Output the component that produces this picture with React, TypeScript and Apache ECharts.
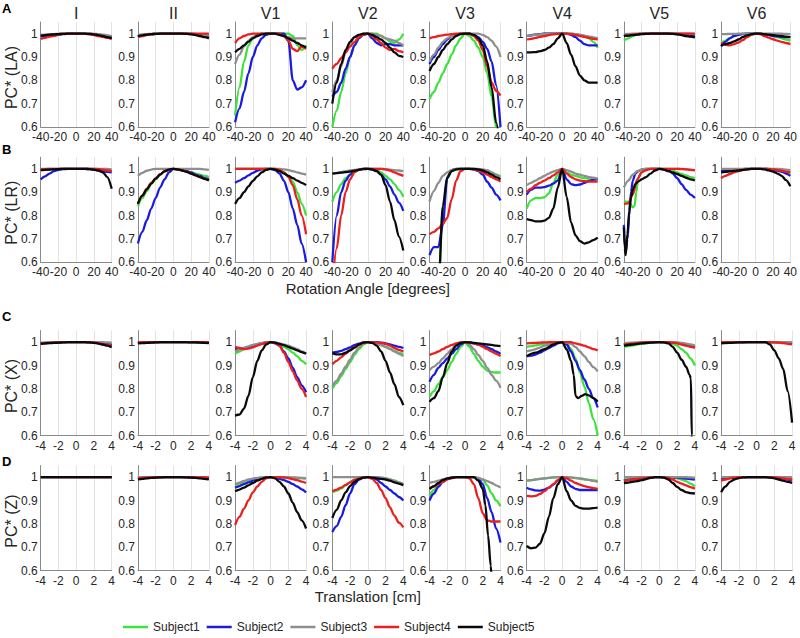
import React, { useEffect, useRef } from "react";
import * as echarts from "echarts";

// ---------- axes / labels ----------
const ROT_X = [-40, -35, -30, -25, -20, -15, -10, -5, 0, 5, 10, 15, 20, 25, 30, 35, 40];
const TR_X = [-4, -3.5, -3, -2.5, -2, -1.5, -1, -0.5, 0, 0.5, 1, 1.5, 2, 2.5, 3, 3.5, 4];
const COL_TITLES = ["I", "II", "V1", "V2", "V3", "V4", "V5", "V6"];
const ROW_LETTERS = ["A", "B", "C", "D"];
const Y_NAMES = ["PC* (LA)", "PC* (LR)", "PC* (X)", "PC* (Z)"];
const X_NAMES = ["Rotation Angle [degrees]", "Translation [cm]"];
const SUBJECTS = ["Subject1", "Subject2", "Subject3", "Subject4", "Subject5"];
const ONE = [1, 1, 1, 1, 1, 1, 1, 1, 1, 1, 1, 1, 1, 1, 1, 1, 1];

type S = number[] | [number, number][];

// ---------- Row A : PC* (LA), rotation ----------
const LA_I: S[] = [
  [0.99, 0.993, 0.995, 0.997, 0.998, 0.999, 1, 1, 1, 1, 1, 0.999, 0.998, 0.996, 0.993, 0.99, 0.986],
  [0.988, 0.991, 0.994, 0.996, 0.998, 0.999, 1, 1, 1, 1, 1, 0.999, 0.998, 0.996, 0.993, 0.99, 0.985],
  [0.995, 0.996, 0.997, 0.998, 0.999, 1, 1, 1, 1, 1, 1, 1, 0.999, 0.998, 0.996, 0.993, 0.99],
  [0.978, 0.982, 0.987, 0.991, 0.995, 0.998, 0.999, 1, 1, 1, 0.999, 0.997, 0.994, 0.99, 0.986, 0.982, 0.978],
  [0.992, 0.994, 0.996, 0.997, 0.998, 0.999, 1, 1, 1, 1, 1, 0.999, 0.997, 0.994, 0.99, 0.985, 0.98],
];
const LA_II: S[] = [
  [0.99, 0.993, 0.996, 0.998, 0.999, 1, 1, 1, 1, 1, 1, 1, 0.999, 0.997, 0.995, 0.992, 0.99],
  [0.99, 0.993, 0.996, 0.998, 0.999, 1, 1, 1, 1, 1, 1, 1, 0.999, 0.997, 0.994, 0.99, 0.986],
  [0.995, 0.997, 0.998, 0.999, 1, 1, 1, 1, 1, 1, 1, 1, 1, 0.999, 0.997, 0.995, 0.992],
  [0.985, 0.99, 0.994, 0.997, 0.999, 1, 1, 1, 1, 1, 1, 1, 1, 1, 1, 1, 1],
  [0.99, 0.993, 0.996, 0.998, 0.999, 1, 1, 1, 1, 1, 1, 0.999, 0.997, 0.994, 0.99, 0.985, 0.98],
];
const LA_V1: S[] = [
  [0.65, 0.77, 0.88, 0.95, 0.98, 0.995, 1, 1, 1, 1, 1, 1, 1, 0.99, 0.95, 0.93, 0.95],
  [0.62, 0.68, 0.75, 0.83, 0.9, 0.95, 0.98, 0.995, 1, 1, 1, 1, 0.97, 0.8, 0.76, 0.77, 0.8],
  [0.87, 0.91, 0.945, 0.97, 0.985, 0.995, 1, 1, 1, 1, 0.995, 0.99, 0.985, 0.98, 0.98, 0.98, 0.98],
  [0.96, 0.98, 0.99, 0.997, 1, 1, 1, 1, 1, 1, 1, 0.99, 0.97, 0.935, 0.925, 0.945, 0.935],
  [0.92, 0.935, 0.95, 0.965, 0.98, 0.99, 0.997, 1, 1, 1, 0.995, 0.99, 0.98, 0.97, 0.96, 0.95, 0.94],
];
const LA_V2: S[] = [
  [0.6, 0.67, 0.75, 0.83, 0.9, 0.95, 0.98, 0.995, 1, 1, 1, 0.99, 0.98, 0.965, 0.96, 0.975, 1],
  [0.73, 0.75, 0.79, 0.85, 0.9, 0.95, 0.98, 0.995, 1, 0.98, 0.96, 0.95, 0.955, 0.955, 0.95, 0.95, 0.95],
  [0.75, 0.8, 0.86, 0.92, 0.96, 0.985, 0.995, 1, 1, 1, 0.995, 0.99, 0.98, 0.975, 0.97, 0.96, 0.95],
  [0.85, 0.87, 0.895, 0.92, 0.945, 0.965, 0.985, 0.995, 1, 0.99, 0.975, 0.96, 0.94, 0.93, 0.935, 0.925, 0.92],
  [0.7, 0.79, 0.87, 0.93, 0.965, 0.985, 0.995, 1, 1, 0.995, 0.985, 0.975, 0.96, 0.94, 0.92, 0.905, 0.9],
];
const LA_V3: S[] = [
  [0.72, 0.75, 0.79, 0.83, 0.87, 0.91, 0.95, 0.98, 1, 0.99, 0.97, 0.94, 0.9, 0.83, 0.73, 0.6, 0.5],
  [0.87, 0.9, 0.93, 0.955, 0.975, 0.99, 0.997, 1, 1, 1, 0.995, 0.985, 0.965, 0.935, 0.88, 0.78, 0.6],
  [0.88, 0.91, 0.94, 0.965, 0.98, 0.99, 0.997, 1, 1, 1, 1, 1, 0.995, 0.985, 0.97, 0.945, 0.9],
  [0.98, 0.985, 0.99, 0.993, 0.996, 0.998, 1, 1, 1, 1, 0.99, 0.97, 0.93, 0.86, 0.79, 0.755, 0.735],
  [0.84, 0.87, 0.9, 0.93, 0.955, 0.975, 0.99, 0.998, 1, 1, 0.995, 0.98, 0.95, 0.88, 0.77, 0.62, 0.5],
];
const LA_V4: S[] = [
  [0.99, 0.993, 0.996, 0.998, 1, 1, 1, 1, 1, 1, 1, 0.998, 0.995, 0.99, 0.98, 0.965, 0.94],
  [0.99, 0.993, 0.996, 0.998, 1, 1, 1, 1, 1, 1, 0.995, 0.985, 0.97, 0.955, 0.95, 0.95, 0.95],
  [0.99, 0.993, 0.995, 0.997, 0.998, 1, 1, 1, 1, 1, 1, 0.998, 0.995, 0.992, 0.988, 0.984, 0.98],
  [0.975, 0.978, 0.982, 0.986, 0.99, 0.994, 0.997, 0.999, 1, 1, 0.998, 0.995, 0.99, 0.986, 0.982, 0.978, 0.975],
  [0.92, 0.92, 0.921, 0.925, 0.93, 0.94, 0.955, 0.98, 1, 0.96, 0.91, 0.86, 0.82, 0.8, 0.79, 0.79, 0.79],
];
const LA_V5: S[] = [
  [0.97, 0.98, 0.99, 0.997, 1, 1, 1, 1, 1, 1, 1, 1, 0.998, 0.996, 0.994, 0.99, 0.988],
  [0.99, 0.993, 0.996, 0.998, 0.999, 1, 1, 1, 1, 1, 1, 1, 0.999, 0.997, 0.994, 0.99, 0.988],
  [0.998, 0.999, 1, 1, 1, 1, 1, 1, 1, 1, 1, 1, 1, 1, 1, 1, 0.998],
  [0.99, 0.993, 0.996, 0.998, 0.999, 1, 1, 1, 1, 1, 1, 1, 1, 1, 1, 1, 1],
  [0.99, 0.992, 0.994, 0.996, 0.998, 0.999, 1, 1, 1, 1, 1, 0.999, 0.997, 0.994, 0.99, 0.987, 0.984],
];
const LA_V6: S[] = [
  [0.96, 0.97, 0.98, 0.99, 0.997, 1, 1, 1, 1, 1, 0.998, 0.995, 0.99, 0.985, 0.98, 0.975, 0.97],
  [0.945, 0.965, 0.98, 0.99, 0.995, 0.998, 1, 1, 1, 1, 0.998, 0.995, 0.99, 0.988, 0.986, 0.985, 0.985],
  [0.998, 0.998, 0.999, 0.999, 1, 1, 1, 1, 1, 1, 1, 1, 1, 1, 1, 0.999, 0.998],
  [0.96, 0.952, 0.95, 0.955, 0.962, 0.972, 0.985, 0.995, 1, 0.998, 0.99, 0.983, 0.976, 0.97, 0.965, 0.96, 0.955],
  [0.95, 0.955, 0.96, 0.967, 0.975, 0.985, 0.993, 0.998, 1, 1, 0.998, 0.996, 0.994, 0.992, 0.99, 0.987, 0.985],
];

// ---------- Row B : PC* (LR), rotation ----------
const LR_I: S[] = [
  [0.995, 0.996, 0.997, 0.998, 0.999, 1, 1, 1, 1, 1, 1, 1, 0.999, 0.998, 0.996, 0.993, 0.99],
  [0.955, 0.968, 0.98, 0.99, 0.996, 0.999, 1, 1, 1, 1, 1, 0.999, 0.997, 0.994, 0.99, 0.987, 0.985],
  [1, 1, 1, 1, 1, 1, 1, 1, 1, 1, 1, 1, 1, 1, 1, 1, 0.998],
  [0.998, 0.999, 1, 1, 1, 1, 1, 1, 1, 1, 1, 1, 1, 0.999, 0.997, 0.993, 0.99],
  [0.995, 0.996, 0.997, 0.998, 0.999, 1, 1, 1, 1, 1, 1, 0.999, 0.997, 0.993, 0.985, 0.965, 0.915],
];
const LR_II: S[] = [
  [0.84, 0.875, 0.905, 0.935, 0.955, 0.975, 0.99, 0.997, 1, 0.998, 0.995, 0.99, 0.985, 0.98, 0.975, 0.97, 0.965],
  [0.68, 0.73, 0.78, 0.83, 0.875, 0.92, 0.955, 0.985, 1, 0.998, 0.995, 0.99, 0.985, 0.975, 0.97, 0.96, 0.955],
  [0.97, 0.983, 0.992, 0.997, 1, 1, 1, 1, 1, 1, 1, 1, 1, 1, 1, 0.998, 0.996],
  [0.85, 0.885, 0.915, 0.94, 0.96, 0.977, 0.99, 0.997, 1, 0.998, 0.994, 0.988, 0.98, 0.973, 0.965, 0.958, 0.952],
  [0.85, 0.885, 0.912, 0.937, 0.958, 0.975, 0.989, 0.997, 1, 0.998, 0.993, 0.987, 0.98, 0.972, 0.965, 0.957, 0.95],
];
const LR_V1: S[] = [
  [1, 1, 1, 1, 1, 1, 1, 1, 1, 1, 0.995, 0.985, 0.97, 0.945, 0.9, 0.85, 0.8],
  [0.94, 0.95, 0.96, 0.972, 0.983, 0.992, 0.998, 1, 1, 0.995, 0.98, 0.95, 0.9, 0.83, 0.76, 0.68, 0.6],
  [1, 1, 1, 1, 1, 1, 1, 1, 1, 1, 1, 0.998, 0.995, 0.99, 0.985, 0.98, 0.975],
  [1, 1, 1, 1, 1, 1, 1, 1, 1, 1, 0.995, 0.985, 0.965, 0.93, 0.87, 0.8, 0.72],
  [0.85, 0.875, 0.9, 0.925, 0.948, 0.968, 0.985, 0.996, 1, 0.997, 0.99, 0.98, 0.97, 0.96, 0.95, 0.94, 0.93],
];
const LR_V2: S[] = [
  [0.86, 0.9, 0.935, 0.96, 0.975, 0.988, 0.996, 1, 1, 1, 0.995, 0.985, 0.97, 0.955, 0.935, 0.91, 0.88],
  [0.6, 0.8, 0.9, 0.95, 0.975, 0.99, 0.997, 1, 1, 0.997, 0.99, 0.975, 0.955, 0.925, 0.89, 0.855, 0.82],
  [0.98, 0.983, 0.986, 0.99, 0.993, 0.996, 0.998, 1, 1, 1, 1, 1, 0.999, 0.997, 0.995, 0.993, 0.99],
  [0.5, 0.66, 0.8, 0.9, 0.955, 0.985, 0.997, 1, 1, 1, 1, 1, 0.998, 0.993, 0.985, 0.977, 0.97],
  [0.98, 0.982, 0.984, 0.986, 0.988, 0.992, 0.996, 0.999, 1, 0.998, 0.99, 0.975, 0.93, 0.86, 0.78, 0.71, 0.65],
];
const LR_V3: S[] = [
  [0.3, 0.35, 0.5, 0.82, 0.96, 0.99, 0.998, 1, 1, 1, 1, 0.998, 0.995, 0.99, 0.983, 0.975, 0.968],
  [0.63, 0.665, 0.665, 0.76, 0.96, 0.995, 1, 1, 1, 1, 0.998, 0.99, 0.975, 0.945, 0.92, 0.89, 0.865],
  [0.86, 0.905, 0.94, 0.97, 0.985, 0.995, 1, 1, 1, 1, 1, 1, 0.998, 0.994, 0.985, 0.975, 0.962],
  [0.72, 0.73, 0.745, 0.765, 0.79, 0.87, 0.95, 0.99, 1, 1, 0.998, 0.993, 0.985, 0.975, 0.965, 0.955, 0.945],
  [0.3, 0.35, 0.48, 0.84, 0.965, 0.99, 0.998, 1, 1, 1, 1, 0.998, 0.993, 0.985, 0.975, 0.965, 0.955],
];
const LR_V4: S[] = [
  [0.83, 0.865, 0.875, 0.875, 0.878, 0.895, 0.94, 0.975, 1, 0.985, 0.975, 0.97, 0.965, 0.96, 0.958, 0.957, 0.955],
  [0.89, 0.91, 0.92, 0.92, 0.922, 0.928, 0.937, 0.95, 1, 0.955, 0.935, 0.93, 0.933, 0.94, 0.948, 0.953, 0.957],
  [0.93, 0.94, 0.95, 0.96, 0.97, 0.98, 0.988, 0.995, 1, 0.995, 0.988, 0.98, 0.975, 0.97, 0.965, 0.962, 0.958],
  [0.9, 0.915, 0.93, 0.94, 0.95, 0.96, 0.972, 0.985, 1, 0.98, 0.965, 0.955, 0.95, 0.947, 0.945, 0.945, 0.945],
  [0.785, 0.78, 0.775, 0.775, 0.778, 0.79, 0.83, 0.92, 1, 0.88, 0.77, 0.715, 0.69, 0.68, 0.685, 0.695, 0.705],
];
const LR_V5: S[] = [
  [[-40, 0.86], [-36, 0.86], [-33, 0.85], [-30, 0.835], [-28, 0.84], [-26, 0.9], [-24, 0.96], [-20, 0.985], [-15, 0.995], [-10, 1], [0, 1], [10, 0.998], [15, 0.993], [20, 0.985], [25, 0.978], [30, 0.972], [35, 0.965], [40, 0.96]],
  [[-40, 0.76], [-39, 0.67], [-38, 0.645], [-36, 0.7], [-34, 0.8], [-32, 0.9], [-30, 0.95], [-27, 0.98], [-24, 0.99], [-20, 0.997], [-15, 1], [-10, 1], [0, 1], [10, 0.995], [15, 0.98], [20, 0.96], [25, 0.935], [30, 0.91], [35, 0.89], [40, 0.875]],
  [0.92, 0.95, 0.975, 0.99, 0.997, 1, 1, 1, 1, 1, 1, 1, 1, 1, 0.999, 0.997, 0.995],
  [0.85, 0.852, 0.89, 0.955, 0.985, 0.995, 1, 1, 1, 1, 1, 1, 1, 0.999, 0.998, 0.996, 0.994],
  [[-40, 0.75], [-39, 0.66], [-38, 0.63], [-36, 0.72], [-34, 0.82], [-32, 0.88], [-30, 0.91], [-27, 0.935], [-24, 0.945], [-20, 0.955], [-15, 0.965], [-10, 0.98], [-5, 0.993], [0, 1], [5, 0.997], [10, 0.99], [15, 0.985], [20, 0.978], [25, 0.97], [30, 0.962], [35, 0.955], [40, 0.95]],
];
const LR_V6: S[] = [
  [0.985, 0.988, 0.991, 0.994, 0.997, 0.999, 1, 1, 1, 1, 1, 0.999, 0.997, 0.994, 0.99, 0.985, 0.98],
  [0.99, 0.992, 0.994, 0.996, 0.998, 0.999, 1, 1, 1, 1, 1, 0.999, 0.997, 0.993, 0.988, 0.98, 0.97],
  [1, 1, 1, 1, 1, 1, 1, 1, 1, 1, 1, 1, 1, 1, 0.999, 0.997, 0.995],
  [0.96, 0.97, 0.978, 0.985, 0.99, 0.995, 0.998, 1, 1, 1, 1, 1, 0.998, 0.995, 0.992, 0.988, 0.985],
  [0.985, 0.987, 0.989, 0.991, 0.993, 0.996, 0.998, 1, 1, 1, 0.998, 0.994, 0.988, 0.98, 0.97, 0.952, 0.925],
];

// ---------- Row C : PC* (X), translation ----------
const X_I: S[] = [
  [0.995, 0.996, 0.997, 0.998, 0.999, 1, 1, 1, 1, 1, 1, 1, 0.999, 0.997, 0.995, 0.992, 0.99],
  [0.995, 0.996, 0.997, 0.998, 0.999, 1, 1, 1, 1, 1, 1, 1, 0.999, 0.997, 0.995, 0.992, 0.988],
  [0.998, 0.999, 1, 1, 1, 1, 1, 1, 1, 1, 1, 1, 1, 1, 1, 0.999, 0.998],
  [0.995, 0.996, 0.997, 0.998, 0.999, 1, 1, 1, 1, 1, 1, 0.999, 0.998, 0.995, 0.992, 0.988, 0.985],
  [0.993, 0.995, 0.996, 0.997, 0.998, 0.999, 1, 1, 1, 1, 1, 0.999, 0.997, 0.994, 0.99, 0.985, 0.978],
];
const X_II: S[] = [
  [0.998, 0.999, 1, 1, 1, 1, 1, 1, 1, 1, 1, 1, 1, 1, 1, 0.999, 0.998],
  [0.998, 0.999, 1, 1, 1, 1, 1, 1, 1, 1, 1, 1, 1, 1, 1, 0.999, 0.998],
  ONE,
  ONE,
  [0.995, 0.996, 0.997, 0.998, 0.999, 1, 1, 1, 1, 1, 1, 1, 0.999, 0.999, 0.998, 0.997, 0.996],
];
const X_V1: S[] = [
  [0.95, 0.96, 0.97, 0.978, 0.985, 0.99, 0.995, 0.999, 1, 0.997, 0.99, 0.98, 0.97, 0.955, 0.94, 0.92, 0.905],
  [0.97, 0.972, 0.975, 0.98, 0.985, 0.99, 0.995, 0.999, 1, 0.995, 0.985, 0.96, 0.93, 0.89, 0.85, 0.815, 0.785],
  [0.96, 0.968, 0.975, 0.982, 0.988, 0.993, 0.997, 0.999, 1, 0.999, 0.995, 0.99, 0.985, 0.978, 0.97, 0.96, 0.952],
  [0.98, 0.975, 0.97, 0.972, 0.978, 0.985, 0.992, 0.998, 1, 0.997, 0.985, 0.955, 0.915, 0.875, 0.835, 0.8, 0.765],
  [0.685, 0.69, 0.715, 0.77, 0.85, 0.92, 0.965, 0.99, 1, 0.998, 0.993, 0.987, 0.98, 0.972, 0.965, 0.957, 0.95],
];
const X_V2: S[] = [
  [0.8, 0.825, 0.855, 0.885, 0.915, 0.945, 0.97, 0.99, 1, 0.998, 0.993, 0.987, 0.98, 0.972, 0.963, 0.955, 0.948],
  [0.955, 0.958, 0.963, 0.97, 0.978, 0.987, 0.994, 0.999, 1, 1, 1, 0.998, 0.995, 0.99, 0.985, 0.98, 0.975],
  [0.81, 0.835, 0.865, 0.895, 0.925, 0.955, 0.978, 0.995, 1, 0.998, 0.993, 0.987, 0.98, 0.97, 0.96, 0.95, 0.94],
  [0.905, 0.92, 0.935, 0.95, 0.965, 0.978, 0.99, 0.998, 1, 1, 0.999, 0.997, 0.993, 0.985, 0.975, 0.967, 0.96],
  [0.953, 0.948, 0.948, 0.955, 0.965, 0.977, 0.99, 0.998, 1, 0.997, 0.985, 0.96, 0.92, 0.87, 0.82, 0.765, 0.73],
];
const X_V3: S[] = [
  [0.765, 0.79, 0.82, 0.85, 0.88, 0.915, 0.95, 0.98, 1, 0.98, 0.95, 0.92, 0.895, 0.878, 0.872, 0.87, 0.87],
  [0.83, 0.86, 0.89, 0.91, 0.93, 0.95, 0.97, 0.99, 1, 0.999, 0.995, 0.99, 0.985, 0.978, 0.97, 0.96, 0.95],
  [0.88, 0.895, 0.91, 0.93, 0.95, 0.97, 0.99, 0.998, 1, 0.99, 0.97, 0.945, 0.92, 0.89, 0.86, 0.835, 0.805],
  [0.945, 0.952, 0.96, 0.97, 0.98, 0.988, 0.995, 0.999, 1, 0.998, 0.995, 0.99, 0.98, 0.97, 0.96, 0.95, 0.94],
  [0.745, 0.76, 0.79, 0.85, 0.91, 0.96, 0.985, 0.997, 1, 0.999, 0.997, 0.995, 0.993, 0.99, 0.988, 0.985, 0.983],
];
const X_V4: S[] = [
  [0.98, 0.983, 0.986, 0.99, 0.993, 0.996, 0.998, 1, 1, 0.995, 0.97, 0.93, 0.87, 0.81, 0.74, 0.67, 0.6],
  [0.94, 0.942, 0.947, 0.955, 0.965, 0.975, 0.985, 0.995, 1, 0.99, 0.96, 0.92, 0.88, 0.84, 0.8, 0.76, 0.72],
  [0.96, 0.965, 0.97, 0.977, 0.985, 0.99, 0.995, 0.999, 1, 0.998, 0.993, 0.98, 0.96, 0.94, 0.915, 0.893, 0.875],
  [0.995, 0.996, 0.997, 0.998, 0.999, 1, 1, 1, 1, 1, 1, 0.995, 0.99, 0.985, 0.978, 0.97, 0.965],
  [[-4, 0.94], [-3, 0.955], [-2, 0.97], [-1, 0.99], [-0.5, 0.997], [0, 1], [0.5, 0.97], [1, 0.92], [1.3, 0.86], [1.5, 0.77], [1.8, 0.76], [2.2, 0.77], [2.6, 0.777], [3, 0.772], [3.5, 0.76], [4, 0.745]],
];
const X_V5: S[] = [
  [0.98, 0.983, 0.986, 0.99, 0.993, 0.996, 0.998, 1, 1, 1, 0.998, 0.993, 0.985, 0.97, 0.955, 0.93, 0.9],
  [0.99, 0.992, 0.994, 0.996, 0.998, 0.999, 1, 1, 1, 1, 1, 0.999, 0.997, 0.994, 0.99, 0.985, 0.98],
  [0.995, 0.997, 0.998, 0.999, 1, 1, 1, 1, 1, 1, 1, 1, 0.999, 0.997, 0.994, 0.99, 0.985],
  [0.99, 0.992, 0.994, 0.996, 0.998, 0.999, 1, 1, 1, 1, 1, 0.998, 0.995, 0.99, 0.985, 0.98, 0.975],
  [[-4, 0.985], [-3, 0.99], [-2, 0.995], [-1, 0.998], [0, 1], [0.5, 0.999], [1, 0.995], [1.5, 0.98], [2, 0.955], [2.5, 0.925], [3, 0.895], [3.4, 0.86], [3.55, 0.845], [3.65, 0.6], [3.7, 0.5]],
];
const X_V6: S[] = [
  ONE,
  [1, 1, 1, 1, 1, 1, 1, 1, 1, 1, 1, 1, 1, 1, 0.999, 0.998, 0.997],
  ONE,
  [1, 1, 1, 1, 1, 1, 1, 1, 1, 1, 1, 1, 0.999, 0.998, 0.996, 0.993, 0.99],
  [[-4, 0.995], [-3, 0.997], [-2, 0.999], [-1, 1], [0, 1], [1, 1], [1.5, 0.99], [2, 0.965], [2.5, 0.93], [3, 0.885], [3.5, 0.79], [4, 0.655]],
];

// ---------- Row D : PC* (Z), translation ----------
const Z_I: S[] = [ONE, ONE, ONE, ONE, ONE];
const Z_II: S[] = [
  [0.998, 0.999, 1, 1, 1, 1, 1, 1, 1, 1, 1, 1, 1, 1, 1, 0.999, 0.998],
  [0.997, 0.998, 0.999, 1, 1, 1, 1, 1, 1, 1, 1, 1, 1, 0.999, 0.998, 0.997, 0.996],
  ONE,
  [0.995, 0.997, 0.998, 0.999, 1, 1, 1, 1, 1, 1, 1, 1, 1, 1, 0.999, 0.999, 0.998],
  [0.99, 0.993, 0.995, 0.997, 0.998, 0.999, 1, 1, 1, 1, 1, 0.999, 0.998, 0.997, 0.995, 0.993, 0.99],
];
const Z_V1: S[] = [
  [0.965, 0.972, 0.98, 0.986, 0.991, 0.995, 0.998, 1, 1, 1, 1, 0.999, 0.998, 0.997, 0.996, 0.995, 0.994],
  [0.955, 0.962, 0.97, 0.978, 0.985, 0.991, 0.996, 0.999, 1, 0.998, 0.993, 0.987, 0.98, 0.97, 0.96, 0.948, 0.935],
  [0.97, 0.977, 0.984, 0.99, 0.994, 0.997, 0.999, 1, 1, 1, 1, 1, 1, 0.999, 0.998, 0.997, 0.996],
  [0.795, 0.83, 0.865, 0.9, 0.935, 0.96, 0.98, 0.995, 1, 1, 1, 0.999, 0.996, 0.992, 0.987, 0.981, 0.975],
  [0.94, 0.947, 0.955, 0.965, 0.975, 0.985, 0.993, 0.999, 1, 0.995, 0.98, 0.96, 0.93, 0.89, 0.85, 0.815, 0.78],
];
const Z_V2: S[] = [
  [0.935, 0.942, 0.952, 0.965, 0.978, 0.99, 0.997, 1, 1, 1, 1, 0.998, 0.995, 0.99, 0.985, 0.978, 0.97],
  [0.765, 0.79, 0.83, 0.88, 0.93, 0.97, 0.99, 0.999, 1, 0.998, 0.99, 0.975, 0.96, 0.945, 0.93, 0.915, 0.9],
  [1, 1, 1, 1, 1, 1, 1, 1, 1, 1, 1, 0.998, 0.995, 0.99, 0.985, 0.978, 0.97],
  [0.94, 0.947, 0.955, 0.967, 0.978, 0.988, 0.995, 0.999, 1, 0.993, 0.975, 0.945, 0.91, 0.87, 0.835, 0.805, 0.785],
  [0.825, 0.86, 0.9, 0.935, 0.962, 0.98, 0.992, 0.998, 1, 0.998, 0.995, 0.993, 0.99, 0.985, 0.978, 0.972, 0.965],
];
const Z_V3: S[] = [
  [0.92, 0.945, 0.965, 0.982, 0.993, 0.998, 1, 1, 1, 1, 1, 0.997, 0.99, 0.965, 0.93, 0.9, 0.875],
  [0.9, 0.93, 0.958, 0.98, 0.993, 0.998, 1, 1, 1, 1, 1, 0.995, 0.97, 0.91, 0.85, 0.78, 0.72],
  [0.975, 0.98, 0.985, 0.99, 0.995, 0.998, 1, 1, 1, 1, 1, 0.997, 0.99, 0.983, 0.975, 0.965, 0.955],
  [0.95, 0.96, 0.97, 0.98, 0.99, 0.996, 1, 1, 1, 0.995, 0.97, 0.91, 0.845, 0.815, 0.81, 0.81, 0.81],
  [[-4, 0.95], [-3.5, 0.962], [-3, 0.975], [-2.5, 0.988], [-2, 0.995], [-1, 1], [0, 1], [1, 1], [1.5, 0.985], [2, 0.95], [2.3, 0.88], [2.6, 0.75], [2.9, 0.62], [3, 0.57]],
];
const Z_V4: S[] = [
  [0.985, 0.987, 0.99, 0.993, 0.995, 0.997, 0.999, 1, 1, 1, 0.998, 0.996, 0.993, 0.99, 0.988, 0.986, 0.984],
  [0.955, 0.948, 0.943, 0.942, 0.947, 0.955, 0.968, 0.985, 1, 0.98, 0.96, 0.95, 0.945, 0.945, 0.945, 0.945, 0.945],
  [0.985, 0.987, 0.99, 0.993, 0.995, 0.997, 0.999, 1, 1, 1, 0.999, 0.997, 0.995, 0.992, 0.988, 0.984, 0.98],
  [0.92, 0.918, 0.92, 0.928, 0.94, 0.955, 0.97, 0.987, 1, 0.995, 0.985, 0.975, 0.968, 0.962, 0.957, 0.953, 0.95],
  [0.705, 0.695, 0.698, 0.715, 0.76, 0.83, 0.91, 0.97, 1, 0.94, 0.9, 0.877, 0.868, 0.865, 0.865, 0.867, 0.87],
];
const Z_V5: S[] = [
  [0.99, 0.992, 0.994, 0.996, 0.998, 0.999, 1, 1, 1, 1, 1, 0.998, 0.995, 0.99, 0.983, 0.972, 0.96],
  [0.985, 0.988, 0.991, 0.994, 0.996, 0.998, 0.999, 1, 1, 1, 1, 0.999, 0.998, 0.996, 0.994, 0.992, 0.99],
  [1, 1, 1, 1, 1, 1, 1, 1, 1, 1, 1, 1, 1, 1, 1, 0.999, 0.998],
  [0.985, 0.987, 0.99, 0.993, 0.995, 0.997, 0.999, 1, 1, 1, 0.997, 0.99, 0.98, 0.972, 0.965, 0.957, 0.95],
  [0.975, 0.977, 0.98, 0.983, 0.987, 0.992, 0.997, 1, 1, 0.998, 0.99, 0.975, 0.958, 0.945, 0.936, 0.932, 0.93],
];
const Z_V6: S[] = [
  [0.99, 0.993, 0.996, 0.998, 0.999, 1, 1, 1, 1, 1, 1, 1, 0.999, 0.998, 0.997, 0.995, 0.993],
  [0.995, 0.997, 0.998, 0.999, 1, 1, 1, 1, 1, 1, 1, 1, 0.999, 0.998, 0.995, 0.99, 0.985],
  ONE,
  [0.985, 0.99, 0.995, 0.998, 1, 1, 1, 1, 1, 1, 1, 1, 0.999, 0.997, 0.995, 0.992, 0.99],
  [0.935, 0.96, 0.98, 0.99, 0.996, 0.999, 1, 1, 1, 1, 1, 0.998, 0.995, 0.99, 0.985, 0.98, 0.975],
];

const ROWS: S[][][] = [
  [LA_I, LA_II, LA_V1, LA_V2, LA_V3, LA_V4, LA_V5, LA_V6],
  [LR_I, LR_II, LR_V1, LR_V2, LR_V3, LR_V4, LR_V5, LR_V6],
  [X_I, X_II, X_V1, X_V2, X_V3, X_V4, X_V5, X_V6],
  [Z_I, Z_II, Z_V1, Z_V2, Z_V3, Z_V4, Z_V5, Z_V6],
];
const ROW_X = [ROT_X, ROT_X, TR_X, TR_X];
const ROW_XRANGE = [
  [-40, 40, 20],
  [-40, 40, 20],
  [-4, 4, 2],
  [-4, 4, 2],
];

// ---------- styling / layout ----------
const COLORS = ["#3ee23e", "#1a1ae0", "#8e8e8e", "#ec1e1e", "#0a0a0a"];
const FONT = "'Liberation Sans', Arial, Helvetica, sans-serif";
const TXT = "#262626";
const LEFT0 = 40.7;
const STEP = 97.2;
const PW = 71;
const ROW_TOP = [22, 157.2, 330.5, 465.5];
const PH = 105;
const LETTER_Y = [8, 149, 316, 461];
const XNAME_Y = [288, 596];

function toPairs(s: S, xs: number[]): [number, number][] {
  if (s.length && typeof s[0] === "number") {
    return (s as number[]).map((y, i) => [xs[i], y] as [number, number]);
  }
  return s as [number, number][];
}

function buildOption() {
  const grid: any[] = [];
  const xAxis: any[] = [];
  const yAxis: any[] = [];
  const series: any[] = [];
  const graphic: any[] = [];

  ROWS.forEach((row, r) => {
    row.forEach((panel, c) => {
      const idx = grid.length;
      const left = LEFT0 + STEP * c;
      grid.push({ left, top: ROW_TOP[r], width: PW, height: PH, containLabel: false });
      const [mn, mx, iv] = ROW_XRANGE[r];
      xAxis.push({
        type: "value",
        gridIndex: idx,
        min: mn,
        max: mx,
        interval: iv,
        axisLine: { show: true, onZero: false, lineStyle: { color: "#8a8a8a", width: 1 } },
        axisTick: { show: false },
        axisLabel: {
          show: true,
          margin: 4,
          fontSize: 12,
          color: TXT,
          fontFamily: FONT,
          showMinLabel: true,
          showMaxLabel: true,
        },
        splitLine: { show: true, lineStyle: { color: "#e3e3e3", width: 1 } },
      });
      yAxis.push({
        type: "value",
        gridIndex: idx,
        min: 0.6,
        max: 1.05,
        interval: 0.1,
        axisLine: { show: true, onZero: false, lineStyle: { color: "#8a8a8a", width: 1 } },
        axisTick: { show: false },
        axisLabel: {
          show: true,
          margin: 3,
          fontSize: 12,
          color: TXT,
          fontFamily: FONT,
          showMinLabel: true,
          showMaxLabel: false,
          formatter: (v: number) => (Math.abs(v - 1) < 1e-9 ? "1" : v.toFixed(1)),
        },
        splitLine: { show: false },
      });
      panel.forEach((s, k) => {
        series.push({
          type: "line",
          name: SUBJECTS[k],
          xAxisIndex: idx,
          yAxisIndex: idx,
          data: toPairs(s, ROW_X[r]),
          symbol: "none",
          showSymbol: false,
          smooth: 0.3,
          smoothMonotone: "x",
          clip: true,
          silent: true,
          z: 2 + k,
          lineStyle: { color: COLORS[k], width: 2.3 },
          itemStyle: { color: COLORS[k] },
        });
      });
    });
  });

  COL_TITLES.forEach((t, c) => {
    graphic.push({
      type: "text",
      x: LEFT0 + STEP * c + PW / 2,
      y: 13,
      style: { text: t, font: `16px ${FONT}`, fill: TXT, textAlign: "center", textVerticalAlign: "middle" },
    });
  });
  ROW_LETTERS.forEach((t, r) => {
    graphic.push({
      type: "text",
      x: 2,
      y: LETTER_Y[r],
      style: { text: t, font: `bold 13px ${FONT}`, fill: "#000", textAlign: "left", textVerticalAlign: "middle" },
    });
    graphic.push({
      type: "text",
      x: 11,
      y: ROW_TOP[r] + PH / 2 + 3,
      rotation: Math.PI / 2,
      style: { text: Y_NAMES[r], font: `16px ${FONT}`, fill: TXT, textAlign: "center", textVerticalAlign: "middle" },
    });
  });
  X_NAMES.forEach((t, i) => {
    graphic.push({
      type: "text",
      x: LEFT0 + STEP * 3 + PW / 2,
      y: XNAME_Y[i],
      style: { text: t, font: `15px ${FONT}`, fill: TXT, textAlign: "center", textVerticalAlign: "middle" },
    });
  });

  return {
    animation: false,
    backgroundColor: "#ffffff",
    textStyle: { fontFamily: FONT },
    legend: {
      data: SUBJECTS.map((n) => ({ name: n, icon: "rect" })),
      left: 123,
      top: 620,
      padding: 0,
      itemWidth: 25,
      itemHeight: 2.5,
      itemGap: 7,
      textStyle: { fontSize: 12, color: TXT, fontFamily: FONT, lineHeight: 14 },
    },
    grid,
    xAxis,
    yAxis,
    series,
    graphic,
  };
}

export default function App() {
  const ref = useRef<HTMLDivElement>(null);
  useEffect(() => {
    if (!ref.current) return;
    const chart = echarts.init(ref.current, undefined, { renderer: "svg" });
    chart.setOption(buildOption() as any);
    return () => chart.dispose();
  }, []);
  return (
    <div
      ref={ref}
      style={{ position: "fixed", left: 0, top: 0, width: 800, height: 638, background: "#fff" }}
    />
  );
}
